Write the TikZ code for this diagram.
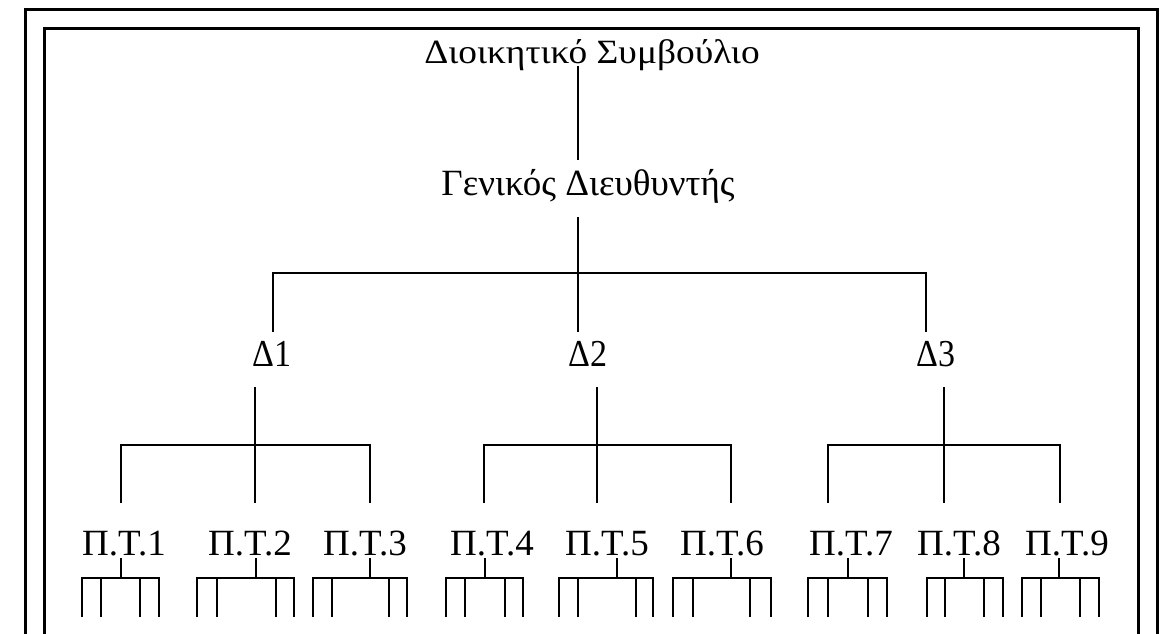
\documentclass[tikz,border=0pt]{standalone}
\usepackage{fontspec}
\setmainfont{Liberation Serif}
\begin{document}
\begin{tikzpicture}[x=1pt,y=-1pt,
  txt/.style={anchor=base, inner sep=0pt, font=\fontsize{37}{37}\selectfont},
  link/.style={line width=2pt},
  frame/.style={line width=3pt}]
% page and double frame (open at the bottom edge)
\clip (0,0) rectangle (1169,633);
\fill[white] (0,0) rectangle (1169,633);
\draw[frame] (25,9) rectangle (1157,680);
\draw[frame] (44,28) rectangle (1138,680);

% labels
\node[txt, font=\fontsize{34}{34}\selectfont] (board) at (592,63) {\scalebox{1.1}[1]{Διοικητικό Συμβούλιο}};
\node[txt] (gm) at (588,195) {Γενικός Διευθυντής};
\foreach \i/\cx in {1/272,2/588,3/936}
  \node[txt, font=\fontsize{34}{34}\selectfont] (d\i) at (\cx,366) {\scalebox{1}[1.12]{Δ\i}};
\foreach \i/\cx in {1/124,2/250,3/365,4/492,5/607,6/722,7/851,8/959,9/1067}
  \node[txt] (p\i) at (\cx,555) {Π.Τ.\i};

% board -> general manager -> directorates
\coordinate (hub) at (578,273);
\coordinate (busL) at (273,273);
\coordinate (busR) at (926,273);
\draw[link] ([yshift=-3pt]board.base -| hub) -- ([yshift=35pt]gm.base -| hub);
\draw[link] ([yshift=-22pt]gm.base -| hub) -- (hub);
\draw[link] ([yshift=34pt]d1.base -| busL) -- (busL) -- (busR) -- ([yshift=34pt]d3.base -| busR);
\draw[link] (hub) -- ([yshift=34pt]d2.base -| hub);

% directorates -> units
\foreach \g/\sx/\lx/\rx/\pa/\pb/\pc in {1/255/121/370/1/2/3, 2/597/484/731/4/5/6, 3/944/828/1060/7/8/9}{
  \coordinate (g\g) at (\sx,445);
  \coordinate (g\g l) at (\lx,445);
  \coordinate (g\g r) at (\rx,445);
  \draw[link] ([yshift=-21pt]d\g.base -| g\g) -- (g\g);
  \draw[link] ([yshift=52pt]p\pa.base -| g\g l) -- (g\g l) -- (g\g r) -- ([yshift=52pt]p\pc.base -| g\g r);
  \draw[link] (g\g) -- ([yshift=52pt]p\pb.base -| g\g);
}

% four sub-branches under each unit
\foreach \i/\sx/\xa/\xb/\xc/\xd in {1/121/82/101/140/159, 2/256/197/217/276/294, 3/370/313/332/389/407,
    4/485/446/465/505/523, 5/617/559/578/636/653, 6/731/673/693/750/771,
    7/848/808/828/868/887, 8/964/927/945/984/1003, 9/1059/1022/1041/1080/1099}{
  \coordinate (t\i) at (\sx,578);
  \coordinate (t\i a) at (\xa,617);
  \coordinate (t\i b) at (\xb,617);
  \coordinate (t\i c) at (\xc,617);
  \coordinate (t\i d) at (\xd,617);
  \draw[link] ([yshift=-3pt]p\i.base -| t\i) -- (t\i);
  \draw[link] (t\i a) |- (t\i) -| (t\i d);
  \draw[link] (t\i b) -- (t\i b |- t\i);
  \draw[link] (t\i c) -- (t\i c |- t\i);
}
\end{tikzpicture}
\end{document}
